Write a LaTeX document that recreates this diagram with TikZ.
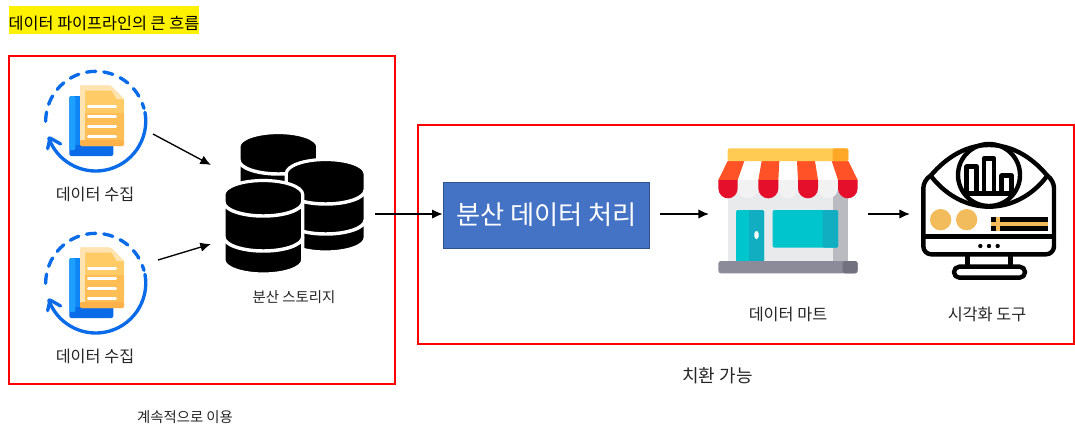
\documentclass[tikz,border=0pt]{standalone}
\usepackage{fontspec}
\setmainfont{Noto Sans CJK KR}
\usetikzlibrary{arrows.meta}
\definecolor{redbox}{HTML}{FF0000}
\definecolor{bluebox}{HTML}{4472C4}
\definecolor{blueedge}{HTML}{2F528F}
\definecolor{ringblue}{HTML}{0A6BE8}
\definecolor{gold}{HTML}{F2BC5C}
\definecolor{sheetlight}{HTML}{FFE3B0}
\definecolor{sheetmain}{HTML}{FFCB66}
\definecolor{sheetlow}{HTML}{FFBD56}
\definecolor{sheetdark}{HTML}{FFB24A}
\definecolor{backlight}{HTML}{1EA0FF}
\definecolor{backmid}{HTML}{0F86F5}
\definecolor{awnred}{HTML}{FF5227}
\definecolor{awndark}{HTML}{E60F2B}
\definecolor{awntop}{HTML}{FFCB52}
\definecolor{awntopd}{HTML}{FFA726}
\definecolor{wallc}{HTML}{E9EAEC}
\definecolor{walld}{HTML}{BABBC0}
\definecolor{scallop}{HTML}{F2F2F3}
\definecolor{tealc}{HTML}{00C5CC}
\definecolor{teald}{HTML}{10AEC0}
\definecolor{basec}{HTML}{8C8B99}
\definecolor{based}{HTML}{72717F}
\tikzset{
 frame/.style={draw=redbox,line width=1.5pt,fill=none,outer sep=0pt,inner sep=0pt,anchor=north west},
 lbl/.style={font=\fontsize{12.2}{14}\selectfont,text=black!85,inner sep=0pt},
 lblsmall/.style={lbl,font=\fontsize{10.8}{13}\selectfont},
 lblwide/.style={lbl,font=\fontsize{13.5}{15}\selectfont},
 flow/.style={draw=black,line width=1pt,-{Latex[length=8pt,width=7pt]}},
 zoomed/.style={x=.25pt,y=-.25pt},
 ringstyle/.style={draw=ringblue,line width=2.5pt},
 mono/.style={draw=black,line width=3.3pt,line join=round}
}
\newcommand{\docicon}[1]{%
 \begin{scope}[shift={(0,#1)},zoomed]
  \fill[ringblue,rounded corners=1.5pt] (208,138) rectangle (340,318);
  \fill[backmid] (225,138) rectangle (245,285);
  \fill[backlight,rounded corners=1pt] (208,138) -- (226,138) -- (226,300) -- (208,300) -- cycle;
  \fill[sheetmain,rounded corners=1pt] (240,107) -- (332,107) -- (372,147) -- (372,288) -- (240,288) -- cycle;
  \fill[sheetlight] (240,107) -- (332,107) -- (372,147) -- (350,147) -- (335,122) -- (255,122) -- (255,270) -- (240,270) -- cycle;
  \fill[sheetlow] (255,190) -- (372,190) -- (372,270) -- (255,270) -- cycle;
  \fill[sheetdark,rounded corners=1pt] (240,270) -- (372,270) -- (372,288) -- (240,288) -- cycle;
  \foreach \yy in {169,199,230,260}
   \draw[white,line width=2pt,line cap=round] (265,\yy) -- (347,\yy);
  \draw[ringstyle,dash pattern=on 7pt off 6pt,line cap=round] (137,214) arc[start angle=180,end angle=345,radius=150];
  \draw[ringstyle,line cap=round] (435,187) arc[start angle=-10,end angle=160,radius=150];
  \draw[ringstyle,line cap=round,line join=round] (143,296) -- (150,264) -- (182,282);
 \end{scope}}
\newcommand{\dbdisk}[6]{% cx, top y, rx, ry, bottom ellipse cy, band centres
 \path[fill=black,draw=white,line width=2.4pt] (#1-#3,#2+#4) arc[start angle=180,end angle=360,x radius=#3,y radius=#4]
   -- (#1+#3,#5) arc[start angle=0,end angle=180,x radius=#3,y radius=#4] -- cycle;
 \foreach \bb in {#6}
  \draw[white,line width=2.6pt] (#1-#3,\bb) arc[start angle=180,end angle=0,x radius=#3,y radius=#4];
}
\begin{document}
\begin{tikzpicture}[x=.75pt,y=-.75pt]
\useasboundingbox (0,0) rectangle (1075,433);
\fill[white] (0,0) rectangle (1075,433);
% title
\fill[yellow] (9,6) rectangle (199,34);
\node[lbl,text=black] (title) at (104,23) {데이터 파이프라인의 큰 흐름};
% frames
\node[frame,minimum width=289.5pt,minimum height=246pt] (left) at (9,56) {};
\node[frame,minimum width=492pt,minimum height=164.25pt] (right) at (418,125) {};
% documents
\docicon{50}
\docicon{212}
\node[lbl] (col1) at (95,194) {데이터 수집};
\node[lbl] (col2) at (95,356) {데이터 수집};
% database
\dbdisk{278.3}{132.5}{39.4}{14}{182}{160}
\dbdisk{325.7}{159.5}{39.4}{14}{238}{190,220}
\dbdisk{263.3}{180.5}{39.4}{14}{260}{202,237}
\node[lblsmall] (store) at (294,297) {분산 스토리지};
% process
\node[draw=blueedge,fill=bluebox,line width=.7pt,minimum width=155pt,minimum height=49.5pt,inner sep=0pt,text=white,font=\fontsize{19.7}{22}\selectfont] (proc) at (546.5,215) {분산 데이터 처리};
% shop
\begin{scope}[shift={(700,135)},zoomed]
 \fill[wallc] (85,130) rectangle (445,380);
 \fill[walld] (398,130) rectangle (445,380);
 \fill[tealc,rounded corners=1pt] (108,225) rectangle (192,380);
 \fill[teald,rounded corners=1pt] (147,225) rectangle (192,380);
 \fill[white,rounded corners=2pt] (163,288) rectangle (176,312);
 \fill[tealc,rounded corners=1pt] (218,225) rectangle (414,338);
 \fill[teald,rounded corners=1pt] (368,225) rectangle (414,338);
 % awning
 \fill[white] (83,78) -- (445,78) -- (473,135) -- (55,135) -- cycle;
 \foreach \aa/\bb/\cc/\dd in {83/133/55/113,185/238/175/235,291/345/294/354,395/445/414/473}
  \fill[awnred] (\aa,78) -- (\bb,78) -- (\dd,135) -- (\cc,135) -- cycle;
 \foreach \xa/\xb in {113/175,235/294,354/414}
  \fill[scallop] (\xa,135) -- (\xb,135) -- (\xb,160) arc[start angle=0,end angle=180,x radius={(\xb-\xa)/2},y radius=30] -- cycle;
 \foreach \xa/\xb in {55/113,175/235,294/354,414/473}
  \fill[awndark] (\xa,135) -- (\xb,135) -- (\xb,160) arc[start angle=0,end angle=180,x radius={(\xb-\xa)/2},y radius=30] -- cycle;
 \fill[awntop,rounded corners=1.5pt] (83,40) rectangle (445,78);
 \fill[awntopd,rounded corners=1.5pt] (398,40) rectangle (445,78);
 \fill[basec,rounded corners=2pt] (55,378) rectangle (473,415);
 \fill[based,rounded corners=2pt] (428,378) rectangle (473,415);
\end{scope}
\node[lbl] (mart) at (788,314) {데이터 마트};
% monitor
\begin{scope}[shift={(910,135)},zoomed]
 \fill[gold] (92,254) circle[radius=32];
 \fill[gold] (170,254) circle[radius=32];
 \fill[black] (243,247) rectangle (413,287);
 \fill[gold] (243,261) rectangle (413,274);
 \fill[gold] (257,247) rectangle (270,287);
 \draw[mono,rounded corners=6pt] (62,122) -- (40,135) -- (40,358) -- (432,358) -- (432,135) -- (412,122);
 \draw[mono] (40,305) -- (432,305);
 \draw[mono] (62,122) .. controls (115,60) and (175,30) .. (237,30) .. controls (300,30) and (360,60) .. (412,122);
 \draw[mono] (62,122) .. controls (110,185) and (175,215) .. (237,215) .. controls (300,215) and (365,185) .. (412,122);
 \draw[mono] (237,120) circle[radius=93];
 \draw[mono] (170,175) -- (170,95) -- (200,95) -- (200,175);
 \draw[mono] (222,175) -- (222,70) -- (252,70) -- (252,175);
 \draw[mono] (275,175) -- (275,122) -- (305,122) -- (305,175);
 \draw[mono] (158,175) -- (316,175);
 \foreach \xx in {211,237,263} \fill (\xx,333) circle[radius=6.5];
 \draw[mono] (172,358) -- (172,395);
 \draw[mono] (302,358) -- (302,395);
 \draw[mono,rounded corners=4pt] (132,395) rectangle (345,428);
\end{scope}
\node[lbl] (viz) at (987,314) {시각화 도구};
% outer labels
\node[lblwide] (swap) at (717.5,376) {치환 가능};
\node[lblsmall] (keep) at (185,417) {계속적으로 이용};
% connectors
\coordinate (d1) at (153,134); \coordinate (s1) at (211,165);
\coordinate (d2) at (158,260); \coordinate (s2) at (211,244);
\coordinate (s3) at (375,214);
\coordinate (m1) at (660,214); \coordinate (m2) at (709,214);
\coordinate (m3) at (868,214); \coordinate (v1) at (910,214);
\draw[flow] (d1) -- (s1);
\draw[flow] (d2) -- (s2);
\draw[flow] (s3) -- (proc.west |- s3);
\draw[flow] (m1) -- (m2);
\draw[flow] (m3) -- (v1);
\end{tikzpicture}
\end{document}
